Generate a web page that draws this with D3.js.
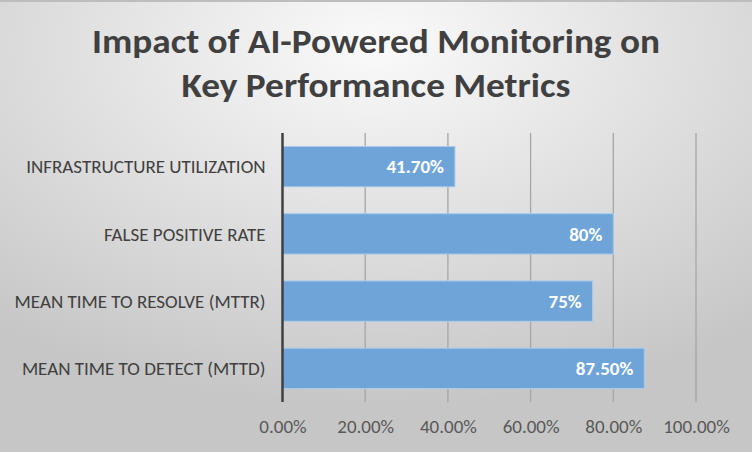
<!DOCTYPE html>
<html>
<head>
<meta charset="utf-8">
<script src="https://cdn.jsdelivr.net/npm/d3@7"></script>
<style>
  html, body { margin: 0; padding: 0; }
  svg text { font-family: Carlito, Calibri, "Open Sans", sans-serif; }
</style>
</head>
<body>
<div id="chart"></div>
<script>
var svgWidth = 752;
var svgHeight = 452;

var margin = {
    top: 133,
    right: 56,
    bottom: 50,
    left: 282.5};

var width = svgWidth - margin.left - margin.right;
var height = svgHeight - margin.top - margin.bottom;

// data
var titleLines = ["Impact of AI-Powered Monitoring on", "Key Performance Metrics"];
var categories = ["INFRASTRUCTURE UTILIZATION", "FALSE POSITIVE RATE", "MEAN TIME TO RESOLVE (MTTR)", "MEAN TIME TO DETECT (MTTD)"];
var values = [0.417, 0.80, 0.75, 0.875];
var valueLabels = ["41.70%", "80%", "75%", "87.50%"];
var tickValues = [0, 0.2, 0.4, 0.6, 0.8, 1.0];

var svg = d3.select("#chart")
    .append("svg")
        .attr("width", svgWidth)
        .attr("height", svgHeight);

// background gradient
var defs = svg.append("defs");
var bg = defs.append("radialGradient")
    .attr("id", "bg")
    .attr("cx", "50%").attr("cy", "10%")
    .attr("r", "80%")
    .attr("gradientUnits", "objectBoundingBox");
bg.append("stop").attr("offset", "0%").attr("stop-color", "#fafafa");
bg.append("stop").attr("offset", "100%").attr("stop-color", "#c6c6c6");

svg.append("rect")
    .attr("width", svgWidth)
    .attr("height", svgHeight)
    .attr("fill", "url(#bg)");
svg.append("rect")
    .attr("width", svgWidth)
    .attr("height", 2)
    .attr("fill", "#bdbdbd");

// title
svg.selectAll(".title")
    .data(titleLines)
    .enter().append("text")
        .attr("class", "title")
        .attr("x", svgWidth / 2)
        .attr("y", (d, i) => 53 + i * 44)
        .attr("text-anchor", "middle")
        .attr("textLength", (d, i) => i === 0 ? 568 : 389)
        .attr("lengthAdjust", "spacingAndGlyphs")
        .style("font-size", "34px")
        .style("font-weight", "bold")
        .style("fill", "#404040")
        .text(d => d);

var chartGroup = svg.append("g")
    .attr("transform", `translate(${margin.left}, ${margin.top})`);

var x = d3.scaleLinear()
    .domain([0, 1])
    .range([0, width]);

var y = d3.scaleBand()
    .domain(categories)
    .range([0, height])
    .paddingInner(0.4)
    .paddingOuter(0.2);

// gridlines
chartGroup.selectAll(".grid")
    .data(tickValues.slice(1))
    .enter().append("line")
        .attr("class", "grid")
        .attr("x1", d => x(d)).attr("x2", d => x(d))
        .attr("y1", 0).attr("y2", height)
        .style("stroke", "#a6a6a6")
        .style("stroke-width", 1.3);

// bars
chartGroup.selectAll(".bar")
    .data(values)
    .enter().append("rect")
        .attr("class", "bar")
        .attr("x", 0)
        .attr("y", (d, i) => y(categories[i]))
        .attr("width", d => x(d))
        .attr("height", y.bandwidth())
        .style("fill", "#6fa4d9")
        .style("stroke", "#aacbea")
        .style("stroke-width", 1);

// value labels
chartGroup.selectAll(".value")
    .data(values)
    .enter().append("text")
        .attr("class", "value")
        .attr("x", d => x(d) - 11)
        .attr("y", (d, i) => y(categories[i]) + y.bandwidth() / 2)
        .attr("dy", "0.36em")
        .attr("text-anchor", "end")
        .style("font-size", "19px")
        .style("font-weight", "bold")
        .style("fill", "#ffffff")
        .text((d, i) => valueLabels[i]);

// y axis line
chartGroup.append("line")
    .attr("x1", 0).attr("x2", 0)
    .attr("y1", 0).attr("y2", height)
    .style("stroke", "#404040")
    .style("stroke-width", 2.5);

// category labels
chartGroup.selectAll(".cat")
    .data(categories)
    .enter().append("text")
        .attr("class", "cat")
        .attr("x", -17)
        .attr("y", d => y(d) + y.bandwidth() / 2)
        .attr("dy", "0.36em")
        .attr("text-anchor", "end")
        .style("font-size", "19px")
        .style("fill", "#404040")
        .text(d => d);

// x axis labels
var xAxis = d3.axisBottom(x)
    .tickValues(tickValues)
    .tickFormat(d3.format(".2%"))
    .tickSize(0)
    .tickPadding(18);

var xAxisGroup = chartGroup.append("g")
    .attr("transform", "translate(0," + height + ")")
    .call(xAxis);
xAxisGroup.select(".domain").remove();
xAxisGroup.selectAll("text")
    .style("font-size", "19px")
    .style("font-family", null)
    .style("fill", "#595959");
</script>
</body>
</html>
